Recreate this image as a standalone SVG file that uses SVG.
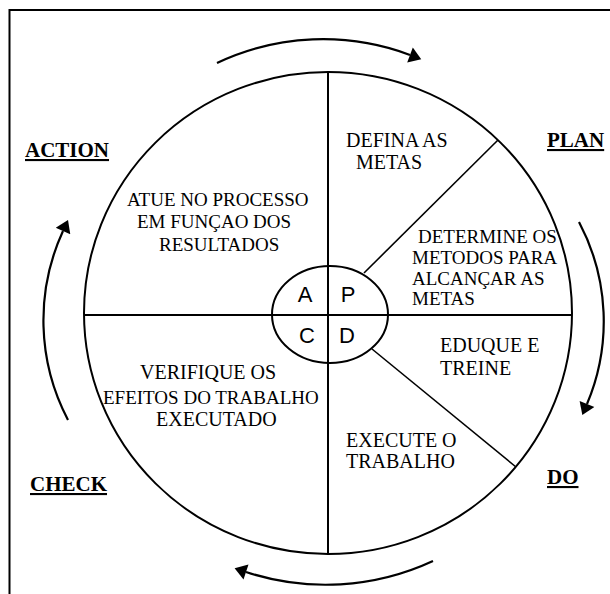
<svg xmlns="http://www.w3.org/2000/svg" width="610" height="594" viewBox="0 0 610 594">
<style>
.ln{fill:none;stroke:#000;stroke-width:2}
.thin{fill:none;stroke:#000;stroke-width:1.6}
.tx{font-family:'Liberation Serif','Times New Roman',serif;font-size:20px;fill:#000}
.tx19{font-family:'Liberation Serif','Times New Roman',serif;font-size:19px;fill:#000}
.lb{font-family:'Liberation Serif','Times New Roman',serif;font-size:21px;font-weight:bold;fill:#000;text-decoration:underline}
.k{font-family:'Liberation Sans',Arial,sans-serif;font-size:22px;fill:#000;text-anchor:middle}
.arr{fill:none;stroke:#000;stroke-width:2.2;marker-end:url(#ah)}
</style>
<defs>
<marker id="ah" markerUnits="userSpaceOnUse" markerWidth="14" markerHeight="16" viewBox="0 0 12 16" refX="0" refY="8" orient="auto">
<path d="M0,0 L12,8 L0,16 Z" fill="#000"/>
</marker>
</defs>
<rect width="610" height="594" fill="#fff"/>
<path class="ln" d="M9.5,594 V10 H610"/>
<g id="wheel">
<ellipse class="ln" cx="328" cy="313" rx="244" ry="241"/>
<line class="ln" x1="328" y1="71" x2="328" y2="554"/>
<line class="ln" x1="84" y1="315" x2="572" y2="315"/>
<line class="thin" x1="364" y1="273" x2="498" y2="140"/>
<line class="thin" x1="372" y1="349" x2="516" y2="467"/>
<ellipse class="ln" cx="330" cy="314.5" rx="58" ry="48.5" fill="#fff"/>
<line class="ln" x1="328" y1="266" x2="328" y2="363"/>
<line class="ln" x1="272" y1="315" x2="388" y2="315"/>
</g>
<g id="center-letters">
<text class="k" x="305" y="302">A</text>
<text class="k" x="348" y="302">P</text>
<text class="k" x="307" y="343">C</text>
<text class="k" x="347" y="343">D</text>
</g>
<g id="action">
<text class="lb" x="25" y="157">ACTION</text>
<text class="tx19" x="127" y="206">ATUE NO PROCESSO</text>
<text class="tx19" x="137" y="228">EM FUNÇAO DOS</text>
<text class="tx19" x="159" y="251">RESULTADOS</text>
</g>
<g id="plan">
<text class="lb" x="547" y="147">PLAN</text>
<text class="tx" x="346" y="147">DEFINA AS</text>
<text class="tx" x="356" y="169">METAS</text>
<text class="tx19" x="418" y="243">DETERMINE OS</text>
<text class="tx19" x="412" y="264">METODOS PARA</text>
<text class="tx19" x="412" y="285">ALCANÇAR AS</text>
<text class="tx19" x="412" y="305">METAS</text>
</g>
<g id="do">
<text class="lb" x="547" y="484">DO</text>
<text class="tx" x="440" y="352">EDUQUE E</text>
<text class="tx" x="440" y="375">TREINE</text>
<text class="tx" x="346" y="447">EXECUTE O</text>
<text class="tx" x="346" y="468">TRABALHO</text>
</g>
<g id="check">
<text class="lb" x="30" y="491">CHECK</text>
<text class="tx" x="140" y="379">VERIFIQUE OS</text>
<text class="tx19" x="103" y="404">EFEITOS DO TRABALHO</text>
<text class="tx" x="156" y="426">EXECUTADO</text>
</g>
<g id="connectors">
<path class="arr" d="M217,63 A248,248 0 0 1 410,55"/>
<path class="arr" d="M579,222 A212,212 0 0 1 587,404"/>
<path class="arr" d="M433,561 A255,255 0 0 1 246,572"/>
<path class="arr" d="M68,420 A214,214 0 0 1 63,231"/>
</g>
</svg>
